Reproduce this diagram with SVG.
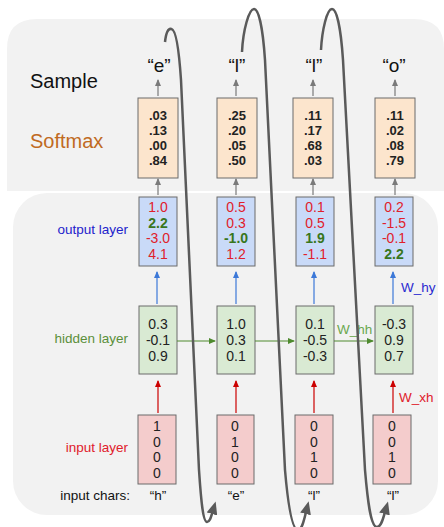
<svg xmlns="http://www.w3.org/2000/svg" width="444" height="527" viewBox="0 0 444 527">
<defs>
<style>
text{font-family:"Liberation Sans",Arial,sans-serif;}
.box{stroke:#6b6b6b;stroke-width:1;}
.sm{fill:#fce5cd;}
.out{fill:#c9daf8;}
.hid{fill:#d9ead3;}
.inp{fill:#f4cccc;}
.v{font-size:14px;text-anchor:middle;fill:#222;}
.b{font-size:13px;font-weight:bold;text-anchor:middle;fill:#222;}
.r{fill:#e0202b;}
.g{fill:#38761d;font-weight:bold;}
.lbl{font-size:13.5px;text-anchor:end;}
.q{font-size:19px;text-anchor:middle;fill:#111;}
.qs{font-size:13.5px;text-anchor:middle;fill:#111;}
.loop{fill:none;stroke:#5a5a5a;stroke-width:2.5;}
</style>
<marker id="ag" markerWidth="7" markerHeight="6" refX="6" refY="3" orient="auto" markerUnits="userSpaceOnUse"><path d="M0,0 L7,3 L0,6 z" fill="#7a7a7a"/></marker>
<marker id="ab" markerWidth="7" markerHeight="6" refX="6" refY="3" orient="auto" markerUnits="userSpaceOnUse"><path d="M0,0 L7,3 L0,6 z" fill="#3c78d8"/></marker>
<marker id="ar" markerWidth="7" markerHeight="6" refX="6" refY="3" orient="auto" markerUnits="userSpaceOnUse"><path d="M0,0 L7,3 L0,6 z" fill="#cc0000"/></marker>
<marker id="agr" markerWidth="7" markerHeight="6" refX="6" refY="3" orient="auto" markerUnits="userSpaceOnUse"><path d="M0,0 L7,3 L0,6 z" fill="#4e8a2e"/></marker>
<marker id="aloop" markerWidth="13" markerHeight="11" refX="2" refY="5.5" orient="auto" markerUnits="userSpaceOnUse"><path d="M0,0 L13,5.5 L0,11 z" fill="#5a5a5a"/></marker>
</defs>

<g id="panels">
<path d="M7,191 L7,49 Q7,19 37,19 L414,19 Q444,19 444,49 L444,191 Z" fill="#f2f2f2"/>
<rect x="13" y="193" width="425" height="322" rx="34" fill="#f2f2f2"/>
</g>

<g id="row-labels">
<text x="30" y="88" font-size="20" fill="#111">Sample</text>
<text x="30" y="148" font-size="20" fill="#c06a1f">Softmax</text>
<text class="lbl" x="128" y="234" fill="#2222cc">output layer</text>
<text class="lbl" x="128" y="343" fill="#5b8f3a">hidden layer</text>
<text class="lbl" x="128" y="452" fill="#e0202b">input layer</text>
<text class="lbl" x="130" y="500" fill="#111">input chars:</text>
</g>

<g id="samples">
<text class="q" x="159" y="72">“e”</text>
<text class="q" x="237" y="72">“l”</text>
<text class="q" x="314" y="72">“l”</text>
<text class="q" x="394" y="72">“o”</text>
</g>

<g id="softmax1"><rect class="box sm" x="138" y="98" width="40" height="80"/>
<text class="b" x="158" y="120">.03</text><text class="b" x="158" y="135">.13</text><text class="b" x="158" y="150">.00</text><text class="b" x="158" y="165">.84</text></g>
<g id="softmax2"><rect class="box sm" x="217" y="98" width="40" height="80"/>
<text class="b" x="237" y="120">.25</text><text class="b" x="237" y="135">.20</text><text class="b" x="237" y="150">.05</text><text class="b" x="237" y="165">.50</text></g>
<g id="softmax3"><rect class="box sm" x="293" y="98" width="40" height="80"/>
<text class="b" x="313" y="120">.11</text><text class="b" x="313" y="135">.17</text><text class="b" x="313" y="150">.68</text><text class="b" x="313" y="165">.03</text></g>
<g id="softmax4"><rect class="box sm" x="375" y="98" width="40" height="80"/>
<text class="b" x="395" y="120">.11</text><text class="b" x="395" y="135">.02</text><text class="b" x="395" y="150">.08</text><text class="b" x="395" y="165">.79</text></g>

<g id="output1"><rect class="box out" x="139" y="197" width="38" height="69"/>
<text class="v r" x="158" y="212">1.0</text><text class="v g" x="158" y="228">2.2</text><text class="v r" x="158" y="243">-3.0</text><text class="v r" x="158" y="259">4.1</text></g>
<g id="output2"><rect class="box out" x="217" y="197" width="38" height="69"/>
<text class="v r" x="236" y="212">0.5</text><text class="v r" x="236" y="228">0.3</text><text class="v g" x="236" y="243">-1.0</text><text class="v r" x="236" y="259">1.2</text></g>
<g id="output3"><rect class="box out" x="296" y="197" width="38" height="69"/>
<text class="v r" x="315" y="212">0.1</text><text class="v r" x="315" y="228">0.5</text><text class="v g" x="315" y="243">1.9</text><text class="v r" x="315" y="259">-1.1</text></g>
<g id="output4"><rect class="box out" x="375" y="197" width="38" height="69"/>
<text class="v r" x="394" y="212">0.2</text><text class="v r" x="394" y="228">-1.5</text><text class="v r" x="394" y="243">-0.1</text><text class="v g" x="394" y="259">2.2</text></g>

<g id="hidden1"><rect class="box hid" x="139" y="306" width="38" height="68"/>
<text class="v" x="158" y="329">0.3</text><text class="v" x="158" y="345">-0.1</text><text class="v" x="158" y="361">0.9</text></g>
<g id="hidden2"><rect class="box hid" x="217" y="306" width="38" height="68"/>
<text class="v" x="236" y="329">1.0</text><text class="v" x="236" y="345">0.3</text><text class="v" x="236" y="361">0.1</text></g>
<g id="hidden3"><rect class="box hid" x="296" y="306" width="38" height="68"/>
<text class="v" x="315" y="329">0.1</text><text class="v" x="315" y="345">-0.5</text><text class="v" x="315" y="361">-0.3</text></g>
<g id="hidden4"><rect class="box hid" x="375" y="306" width="38" height="68"/>
<text class="v" x="394" y="329">-0.3</text><text class="v" x="394" y="345">0.9</text><text class="v" x="394" y="361">0.7</text></g>

<g id="input1"><rect class="box inp" x="138" y="415" width="38" height="69"/>
<text class="v" x="157" y="431">1</text><text class="v" x="157" y="447">0</text><text class="v" x="157" y="462">0</text><text class="v" x="157" y="478">0</text></g>
<g id="input2"><rect class="box inp" x="217" y="415" width="37" height="69"/>
<text class="v" x="235" y="431">0</text><text class="v" x="235" y="447">1</text><text class="v" x="235" y="462">0</text><text class="v" x="235" y="478">0</text></g>
<g id="input3"><rect class="box inp" x="295" y="415" width="38" height="69"/>
<text class="v" x="314" y="431">0</text><text class="v" x="314" y="447">0</text><text class="v" x="314" y="462">1</text><text class="v" x="314" y="478">0</text></g>
<g id="input4"><rect class="box inp" x="373" y="415" width="38" height="69"/>
<text class="v" x="392" y="431">0</text><text class="v" x="392" y="447">0</text><text class="v" x="392" y="462">1</text><text class="v" x="392" y="478">0</text></g>

<g id="input-chars">
<text class="qs" x="158" y="500">“h”</text>
<text class="qs" x="236" y="500">“e”</text>
<text class="qs" x="314" y="500">“l”</text>
<text class="qs" x="393" y="500">“l”</text>
</g>

<g id="weight-labels">
<text x="401" y="292" font-size="13.5" fill="#2a2ad0">W_hy</text>
<text x="399" y="402" font-size="13.5" fill="#e0202b">W_xh</text>
<text x="337" y="334" font-size="13.5" fill="#6aa84f">W_hh</text>
</g>

<g id="connectors">
<g stroke="#7a7a7a" stroke-width="1.2" marker-end="url(#ag)">
<line x1="158" y1="96" x2="158" y2="80"/><line x1="236" y1="96" x2="236" y2="80"/><line x1="313" y1="96" x2="313" y2="80"/><line x1="395" y1="96" x2="395" y2="80"/>
<line x1="158" y1="195" x2="158" y2="179"/><line x1="236" y1="195" x2="236" y2="179"/><line x1="313" y1="195" x2="313" y2="179"/><line x1="395" y1="195" x2="395" y2="179"/>
</g>
<g stroke="#3c78d8" stroke-width="1.2" marker-end="url(#ab)">
<line x1="157" y1="304" x2="157" y2="272"/><line x1="236" y1="304" x2="236" y2="272"/><line x1="314" y1="304" x2="314" y2="272"/><line x1="393" y1="304" x2="393" y2="272"/>
</g>
<g stroke="#cc0000" stroke-width="1.2" marker-end="url(#ar)">
<line x1="158" y1="413" x2="158" y2="381"/><line x1="236" y1="413" x2="236" y2="381"/><line x1="314" y1="413" x2="314" y2="381"/><line x1="393" y1="413" x2="393" y2="381"/>
</g>
<g stroke="#4e8a2e" stroke-width="1.2" marker-end="url(#agr)">
<line x1="177" y1="341" x2="215" y2="341"/><line x1="255" y1="341" x2="294" y2="341"/><line x1="334" y1="341" x2="373" y2="341"/>
</g>
<g class="loop" marker-end="url(#aloop)">
<path d="M165,42 C166,33 168,28 171.5,29 C176,30 179,50 181,80 L199,470 C201,500 203,522 207,522 C210,522 211,517 212.5,512"/>
<path d="M242,52 C243,30 249,9 254,9 C259,9 263,30 265,60 L285,470 C288,505 292,530 298,530 C302,530 304,520 306,512"/>
<path d="M321,50 C322,30 327,9 332,9 C337,9 341,30 343,60 L365,470 C368,505 371,527 377,527 C381,527 383,519 385,512"/>
</g>
</g>
</svg>
